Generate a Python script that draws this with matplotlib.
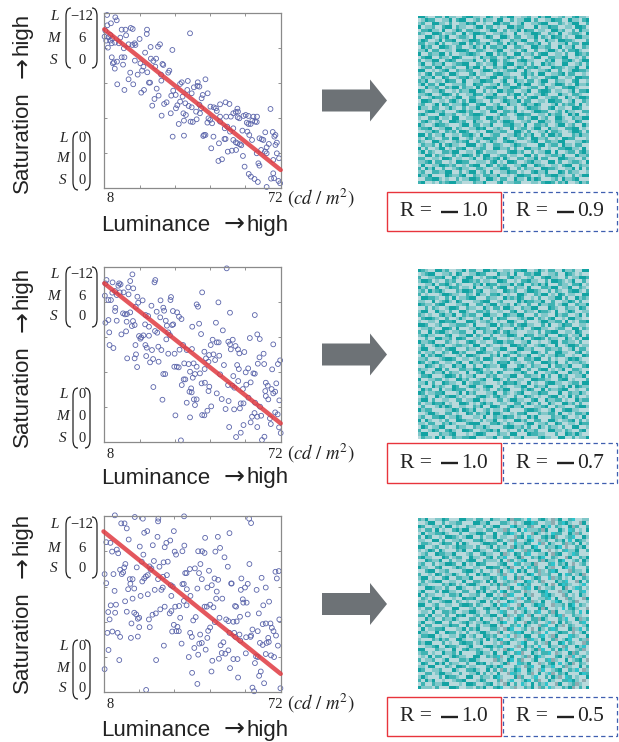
import numpy as np
import matplotlib
matplotlib.use("Agg")
import matplotlib.pyplot as plt
from matplotlib.colors import ListedColormap
from matplotlib.patches import Polygon, Rectangle, PathPatch
from matplotlib.path import Path

# scatter values: (luminance cd/m2, saturation in arbitrary units)
points_09 = [(9.0,520),(12.0,513),(12.5,504),(10.4,495),(9.1,489),(8.4,473),(8.1,455),(9.5,453),(10.2,460),(8.7,443),(10.1,443),(10.8,450),(9.3,422),(10.7,435),(11.9,437),(13.8,452),(14.3,476),(15.7,476),(17.6,481),(18.3,478),(23.5,476),(23.4,463),(15.9,459),(20.8,448),(39.1,465),(19.0,435),(18.2,430),(19.3,430),(16.8,432),(13.3,435),(24.8,424),(28.2,432),(27.5,425),(32.7,415),(22.8,407),(15.1,420),(14.3,393),(15.3,393),(10.7,393),(12.6,380),(11.5,378),(11.1,375),(11.8,359),(14.8,371),(19.1,383),(21.1,375),(24.9,389),(26.8,389),(25.8,382),(29.1,373),(29.4,370),(26.5,365),(22.2,365),(21.7,353),(23.6,348),(17.4,347),(20.1,341),(16.8,327),(18.5,312),(12.7,312),(15.3,295),(31.6,353),(31.2,347),(28.6,341),(44.7,327),(38.3,322),(41.9,318),(36.1,318),(35.5,313),(24.2,317),(24.6,317),(28.7,323),(27.0,299),(22.4,295),(21.4,287),(27.7,278),(26.2,268),(25.4,248),(29.7,253),(30.6,258),(33.0,293),(32.3,278),(33.9,280),(34.5,249),(34.0,240),(28.8,218),(32.1,225),(35.0,193),(36.9,203),(39.3,200),(40.1,199),(41.5,207),(32.8,155),(36.9,158),(44.2,160),(44.7,160),(47.6,155),(46.8,120),(49.4,82),(50.7,87),(52.8,110),(54.3,113),(55.8,115),(49.6,135),(51.6,148),(52.0,148),(54.8,145),(55.7,138),(57.7,129),(58.3,97),(58.9,65),(60.4,43),(61.2,35),(62.5,28),(63.7,19),(66.9,4),(69.3,45),(69.6,30),(68.5,29),(71.2,22),(71.8,15),(71.4,90),(70.6,137),(70.1,130),(67.7,133),(66.9,123),(66.3,110),(63.9,75),(64.3,68),(64.9,115),(65.1,147),(64.3,150),(66.4,168),(69.1,169),(70.1,160),(69.7,155),(68.3,238),(62.1,215),(63.4,215),(60.3,217),(58.5,217),(59.3,220),(56.3,239),(56.5,230),(55.7,229),(54.8,225),(53.9,215),(52.2,215),(53.4,253),(52.0,258),(50.0,252),(48.5,240),(48.8,232),(46.5,245),(47.7,243),(45.5,285),(43.7,280),(43.3,270),(40.5,303),(41.8,307),(42.5,305),(39.7,285),(38.1,295),(36.4,275),(35.5,260),(37.4,255),(38.6,247),(39.7,243),(42.5,251),(43.1,240),(45.8,210),(46.4,205),(45.4,197),(47.1,195),(50.0,200),(51.7,180),(52.6,185),(54.8,180),(57.0,210),(56.4,213),(59.7,197),(61.7,203),(61.1,193),(60.3,193),(62.7,200),(63.3,199),(59.9,170),(58.1,173),(61.6,145),(60.6,160),(42.7,225),(41.3,230),(37.6,220),(36.7,225),(43.9,157),(50.0,215),(57.2,132),(56.3,135),(53.6,170),(65.7,145),(70.6,105),(69.3,85),(63.3,105),(66.9,105)]
points_07 = [(52.4,520),(18.2,502),(8.8,485),(11.0,478),(8.4,475),(13.4,475),(13.9,472),(13.1,468),(17.4,482),(16.7,463),(18.5,460),(15.0,448),(13.6,448),(11.9,452),(10.9,447),(12.5,440),(8.2,438),(9.5,425),(10.4,425),(16.8,442),(20.0,435),(21.9,424),(20.3,417),(19.4,405),(26.5,485),(26.2,478),(43.5,448),(32.2,434),(32.0,425),(28.4,424),(25.1,408),(29.4,402),(29.7,393),(27.0,390),(32.9,392),(34.4,388),(35.1,375),(36.0,368),(41.5,412),(42.0,405),(49.4,418),(53.6,387),(62.6,380),(48.5,357),(42.4,354),(39.9,345),(51.0,334),(43.1,323),(33.0,352),(32.6,350),(31.2,328),(31.8,320),(30.5,307),(28.3,373),(30.3,363),(30.7,348),(23.0,380),(23.9,377),(22.8,352),(24.2,345),(26.4,332),(27.2,327),(24.2,318),(12.0,402),(11.9,392),(14.8,385),(15.5,382),(16.2,383),(17.4,388),(16.1,360),(18.4,362),(19.0,350),(18.0,347),(12.5,363),(9.5,365),(8.4,357),(9.8,328),(14.2,322),(15.9,331),(20.6,317),(21.4,313),(22.2,319),(21.1,309),(19.3,290),(9.9,290),(11.3,281),(22.9,290),(23.4,282),(25.3,275),(28.7,275),(27.6,285),(31.2,264),(33.5,264),(35.3,276),(36.6,290),(37.9,275),(39.8,278),(16.3,250),(19.5,262),(19.0,250),(23.2,257),(25.7,248),(24.6,238),(27.7,240),(19.9,224),(29.4,203),(30.1,203),(33.4,225),(34.3,225),(35.0,223),(37.0,235),(38.6,233),(40.4,235),(41.5,225),(39.1,210),(40.9,203),(42.7,205),(44.4,218),(40.1,192),(36.8,187),(37.4,187),(43.3,175),(44.5,177),(46.1,165),(45.8,152),(39.5,160),(38.9,150),(39.7,148),(36.1,170),(25.8,164),(29.1,126),(37.9,117),(40.5,127),(41.5,127),(40.9,110),(46.8,106),(45.4,93),(43.5,80),(44.3,79),(39.1,73),(33.8,79),(35.8,4),(44.3,270),(46.6,290),(47.3,306),(48.8,298),(49.5,298),(53.0,300),(54.6,306),(53.6,292),(55.6,287),(53.9,277),(56.5,277),(57.0,265),(58.8,269),(60.8,311),(63.5,322),(64.4,308),(69.3,292),(65.8,264),(64.3,253),(63.7,234),(66.0,233),(71.8,244),(71.0,233),(68.9,217),(56.2,230),(56.8,218),(60.2,220),(59.3,208),(62.1,205),(62.6,204),(54.8,197),(56.6,182),(61.1,178),(59.5,171),(52.9,170),(54.5,168),(55.2,162),(58.3,158),(48.8,145),(50.6,128),(53.1,122),(60.3,132),(62.7,117),(64.5,105),(57.5,115),(58.5,115),(57.2,100),(55.1,97),(52.0,98),(62.5,86),(61.6,75),(63.5,75),(64.9,78),(66.6,177),(67.3,168),(70.4,175),(66.4,152),(68.7,158),(70.0,150),(69.3,145),(66.6,137),(67.5,127),(71.5,124),(70.0,88),(70.9,82),(68.1,70),(68.4,53),(71.4,43),(72.0,26),(66.1,15),(65.2,5),(55.8,14),(57.5,27),(53.3,44),(58.5,50),(61.1,58),(63.5,44),(44.9,250),(45.8,240),(47.6,262),(49.7,258),(48.2,245),(51.4,230),(50.0,202),(46.0,260)]
points_05 = [(12.1,527),(19.3,522),(22.2,517),(27.8,517),(37.1,524),(27.7,509),(14.4,503),(15.6,503),(16.4,488),(22.7,475),(23.8,480),(33.4,480),(44.7,460),(49.3,463),(53.5,474),(60.6,517),(61.3,504),(17.1,455),(27.5,463),(32.1,452),(30.7,445),(30.1,432),(25.8,438),(21.1,434),(37.2,437),(36.5,420),(33.7,419),(34.2,410),(9.0,447),(10.5,445),(12.8,425),(11.1,419),(13.3,414),(22.4,410),(42.2,420),(43.6,420),(44.5,415),(50.1,430),(48.4,419),(51.7,402),(15.9,382),(15.5,372),(14.0,365),(15.1,357),(14.6,352),(11.6,352),(8.4,352),(9.0,325),(12.0,302),(20.0,372),(21.8,389),(26.2,391),(24.6,375),(25.3,369),(29.7,387),(31.2,389),(28.2,374),(43.0,382),(52.9,374),(60.7,382),(39.2,367),(41.0,369),(38.0,355),(37.5,355),(42.5,355),(46.1,362),(30.9,349),(23.3,345),(24.0,349),(22.7,339),(22.0,330),(18.5,337),(17.5,337),(17.7,323),(16.9,307),(19.1,309),(25.0,365),(27.7,337),(29.5,344),(26.5,305),(24.0,292),(21.4,287),(18.5,279),(15.8,271),(12.5,261),(10.6,259),(9.7,239),(12.2,237),(16.4,240),(19.1,237),(19.8,232),(20.4,219),(20.9,222),(10.2,217),(18.1,205),(20.9,194),(24.7,194),(24.4,217),(25.7,231),(26.9,235),(28.5,247),(30.1,255),(31.9,235),(32.5,242),(33.9,255),(35.3,257),(37.0,272),(38.0,259),(39.4,287),(37.0,323),(38.1,307),(36.5,322),(32.3,319),(33.0,315),(29.4,312),(28.9,305),(32.5,287),(41.9,309),(43.5,337),(45.5,312),(47.1,319),(48.1,339),(49.4,335),(48.9,300),(50.9,279),(48.7,279),(45.3,255),(46.5,261),(44.5,255),(47.7,253),(54.1,324),(54.3,324),(57.8,339),(60.1,323),(59.1,312),(57.6,305),(58.3,277),(59.7,267),(58.5,267),(55.5,257),(55.9,255),(63.3,305),(65.1,341),(66.6,312),(67.8,270),(65.7,259),(64.1,235),(70.1,359),(71.3,361),(70.6,339),(41.3,224),(40.4,214),(35.7,222),(49.9,222),(52.3,217),(53.1,212),(54.9,210),(56.1,211),(57.3,225),(60.1,232),(46.5,193),(45.8,183),(42.9,172),(48.2,209),(33.4,201),(34.7,195),(34.3,182),(35.2,182),(32.8,181),(39.3,177),(39.9,165),(45.5,162),(36.2,145),(29.8,139),(42.6,145),(43.5,147),(40.8,132),(44.9,127),(51.3,149),(50.3,140),(53.1,125),(52.0,115),(50.7,117),(49.7,100),(47.3,94),(54.9,99),(56.4,99),(42.2,112),(38.8,105),(27.0,96),(13.7,96),(8.4,69),(9.8,126),(9.4,177),(11.2,181),(13.1,177),(14.0,165),(17.9,162),(20.4,166),(40.0,58),(47.0,62),(41.9,25),(23.4,7),(53.7,72),(56.6,44),(64.8,62),(64.2,49),(66.0,27),(61.8,14),(62.4,3),(71.9,12),(71.5,217),(66.6,205),(65.5,203),(68.3,205),(68.8,192),(69.4,182),(61.8,187),(63.7,182),(61.3,169),(59.5,164),(61.1,165),(57.4,154),(67.5,162),(64.5,147),(70.3,169),(71.0,139),(66.9,147),(65.5,141),(67.7,150),(66.6,114),(68.5,110),(69.6,105),(63.1,107),(63.7,105),(62.7,87),(59.4,116),(55.2,177),(57.1,172),(53.5,177),(55.6,165)]

# the fitted R = -1.0 line, ends as (luminance, saturation)
line_lum = [8, 72]
line_sat_09 = [477, 55]
line_sat_07 = [475, 55]
line_sat_05 = [479, 55]

# mosaics, hand typed levels. only the overall texture is estimated by eye, not cell for cell
mosaic_09 = [
"33100220311002331100320021330011200313300120023110",
"01322001130233001202110330020113302001132200311023",
"12003311020011323001003312200130011233000210133002",
"30112002330211001330220100331220003011322001103320",
"02231103001320221100133002011303220110033120020311",
"21003320112003013322001121003001133200210300122103",
"00331021300122103001320033102200113021032201003311",
"13200130223001133200012310021133002003110332210002",
"22011302001133020211300220313001221300200113022033",
"03120033210220013103022113002210033112200301130021",
"11302200110333200221001330011023002001331020223100",
"30021133020011232100330212003301120233001102003212",
"02330021103320001031122001321020013300221133001020",
"20113300232001113002033102100233110002130022310133",
"13002113001223300210113002330112020031210033001202",
"01220330112000313302002113001320223100032210113003",
"33001012300211220013320101223003100112300200133221",
"10230221033100023011002331100023120330011230220010",
"02113003200122310200133002212003011002233001103322",
"21300110322003001133220013003110220133002110023001",
"13022033001112003220011302200313300120013320103112",
"00311200213302110301223001133200122003110022331000",
"32001132001021133002010331220011300233201100130223",
"11230013320200113220113000213302001132000311022100",
"20013220101330022001332112003010233001122003101332",
"03320011023102033110020013211302200110332200130021",
"12001303201113200233001200311023113200013021220301",
"31102200131002011300221331002001322100230110033200",
"00233112000233120011033002213010013322001203110022",
"23100033112001023321000132001332200110312200313001",
"10022301103300112200331201100220133012003310021133",
"02310120033212003110022013320011200331102211003200",
"31001322100013302201130002231103002212001330120031",
"12230011330210011323001210030122013300311002233010",
"00113200212033200100331122003310200113022100133202",
"33020113001102231030012200113202130020331200021311",
"10321002203300120113322003100221033112001033220001",
"21003311001212300200131002331000123002211330001132",
"02112030231100333012002210013211000330122031102200",
"30200133010223001122003311202003311200100223311030",
"13021002213300110320111000233120020113303001220231",
"00330211002013320203300122011003302001122130003112",
"22001103320110013003212303100220113022000332110020",
"11230220010332200111023010332001231100330200122103",
"03001133212001023300320212001133003210011023300211",
"20313002001231100221001133200202110033221001130302",
"12002211330020133012030011322010023113000320211001",
"31130000321123002102211300101332200102233110020133",
"00223310100201133200331022003110313200012031123000",
"23001021233110002113000230112200011023320213001312",
]
mosaic_07 = [
"32100331200113022003312001102233001310220031120033",
"01233001120320011322000311203002213300112003210100",
"20011223003101330010223100231100120023311002011332",
"13320100212003321201100332001022311002033210130020",
"00113022310210002130322011130230021313000211022301",
"31200300132201103001120233002110300022133011300210",
"12031231000213320230011003212001332100202100233102",
"20100013321100210311022310100331002133010320110033",
"03322100203011233000211003121320010200113302003121",
"11003012310320001123300120000313221130020011320200",
"32110233000112300220133011203100200311220133002113",
"00202100133200211003102203310021133000321002110320",
"13300311020033100221200110023002110322103001320011",
"21010023113002122003311003211330002011003122001302",
"02332100200131001130020322000121330210230010331100",
"10011033223000332011210100331002000133112203010223",
"33200120011222103000133021120233110020300132200110",
"01121003320300011322100310003120023311001220033021",
"20030233101122003002113202311000110202233001103200",
"12311000230011330210020011332003220113000322011302",
"00200331120332001103312000101130023320211003102033",
"31123000210100232011002331220011300100133022110200",
"02001323001221103300210010033212001231003001332011",
"13300110233000211023001133000331120002211200130220",
"20112002103312000332110200123100033102003311002301",
"03021331000120332100021303200211300120113220010032",
"11200012332001101203320011023002213300201001323100",
"32013200110230031120010322301100120033213002011210",
"00321021003113002003211033000231021100302211300023",
"21100330200022113320100002113300200233010130022100",
"13002113021100300231120320001132003001123000311203",
"02230001332020113000212001133002211030200312001130",
"30011220100331200123003310200110033221100233010002",
"11302003211003012211000103223100301002331100122033",
"20003121003200133002330021001133002113000120303211",
"03120030113222001101200213300021320030211233001002",
"32011223000130312000113002101230011322000300211310",
"01200310233101000233102311002003210100233010302001",
"13302001100220113301000220133110023003112201003122",
"20113223010033201023120011002201310200310033120200",
"02000131320011002130033200231130001123002110002331",
"31220000113203213001201102300002332100130023311000",
"00133100220100320211303310010223000211220300102213",
"12002233011320001103002113220100313000021132001030",
"30310010200332110020113001003312002200331011230201",
"11022002131000233300022310210001330112003200110322",
"03201133000211002113100002331120200310211020033001",
"20013200231003320011231300100203112000331102100230",
"13300021123000101332000211033000322110002003213100",
"02110303002112233000113002201130000231100330020113",
]
mosaic_05 = [
"21300113200033110220031100342210500231041300250011",
"00133002011220003311300022104013352001140253100430",
"32001120330100211002013300053110240031502100342002",
"10220301002313300110220114200305111243000310520103",
"03011223100020011332003002351020043101052200314200",
"20320010332101330020113011004230510023134001250031",
"11003302001120002231001320142001350412002130503210",
"02210013220303100013322003005113200540310024120301",
"33001200101322110200130211043120035002113504002130",
"10132031000213003311002300250014213300401025113002",
"01200322113000120023110034103202500113042300152000",
"23110003201220031100230215001340021350021004300213",
"00321130020110233002111030420153000243110350012031",
"12002011332003010322000123005201134000250213040120",
"31100230001321001100332201340020512003140035120002",
"00233011200002331020010430150313002410253000421103",
"20010320113100200313200124002001350411200305201340",
"13301002300221130001132015003420013200541201030021",
"02012330011003002210303001214003510240003125004302",
"21100002132010233100021342100531200013040352100150",
"00332110200331001023100200430012503401120034015201",
"13000203311002200313012053012204100235000411300250",
"30211001022130011200330104250003140025310042010310",
"02103320001003223001102132001450300112503004210043",
"11020012330210100133020400351002241030015300124001",
"33001200110023320210013025100430013520041120350210",
"10220311003300012002311300420215000343001050231004",
"01103002212001133100200152004013102500243001120503",
"22030110200323001201133003410250430012013540021100",
"00312002113100022030010240105310022431000215003412",
"13001330020012310113200135002004312001540302100250",
"20220001132200300201133040021503100425003140210013",
"03011223000113021300022104350012040310252000341502",
"31100300322010200133100430012530021405001322040130",
"02233010011023012003212001504103300250143000521003",
"10002131200331001120301350021004251030024013500214",
"21330002010023220130001042300153002014300350210042",
"00112300322100130002331250001403120500311042003150",
"33000211003002311210020104350022013450020315001240",
"12201003112030000231103003102540031022504100342001",
"01030220013211003300212540130012403510002301450120",
"20112001300022133100004210350240013002541003012304",
"03200313021100200323010013400521300410230501340210",
"11033000210332011000231350002104250031150024100302",
"32001120003100223100302042013500310450012300215041",
"00220133110020011302010300452100240301540213000352",
"13100020322100330021103510003420015002031405201003",
"20313001001223000132000240150013502400310022531040",
"02002113300010332001230104302051030215004300124100",
"31110200033200110213002350014002130420510021340203",
]

lum_ticks = [8, 20.8, 33.6, 46.4, 59.2, 72]
sat_ticks = [105, 210, 315, 420]
mosaic_levels = ["#b8d9dc", "#80c7c9", "#40b3b3", "#13a3a3", "#8fabb0", "#2ec4cc"]

FIG_W, FIG_H = 619, 742
SANS = ["Liberation Sans", "DejaVu Sans"]
SERIF = ["Liberation Serif", "DejaVu Serif"]


def add_px_axes(fig, x0, y0, x1, y1):
    '''axes from picture pixels, y going down'''
    return fig.add_axes([x0 / FIG_W, 1 - y1 / FIG_H, (x1 - x0) / FIG_W, (y1 - y0) / FIG_H])


def plot_scatter(fig, box, points, line_sat):
    ax = add_px_axes(fig, *box)
    lum = [p[0] for p in points]
    sat = [p[1] for p in points]
    ax.scatter(lum, sat, s=12, facecolors="none", edgecolors="#5a64aa", linewidths=0.6, clip_on=False, zorder=2)
    ax.plot(line_lum, line_sat, color="#e03a40", lw=3.2, alpha=0.85, solid_capstyle="round", clip_on=False, zorder=3)
    ax.set_xlim(8, 72)
    ax.set_ylim(0, 525)
    ax.set_xticks(lum_ticks)
    ax.set_yticks(sat_ticks)
    ax.set_xticklabels([])
    ax.set_yticklabels([])
    ax.tick_params(direction="in", length=2, width=0.6, color="#808080", top=True, right=True)
    for spine in ax.spines.values():
        spine.set_color("#8a8a8a")
        spine.set_linewidth(0.9)


def plot_mosaic(fig, box, rows):
    ax = add_px_axes(fig, *box)
    grid = np.array([[int(c) for c in row.ljust(50, "1")[:50]] for row in rows])
    ax.imshow(grid, cmap=ListedColormap(mosaic_levels), vmin=-0.5, vmax=5.5, aspect="auto", interpolation="nearest")
    ax.axis("off")


def draw_paren(ov, x_edge, x_tip, top, bottom):
    r = 8
    verts = [(x_tip, top), (x_edge, top), (x_edge, top + r), (x_edge, bottom - r), (x_edge, bottom), (x_tip, bottom)]
    codes = [Path.MOVETO, Path.CURVE3, Path.CURVE3, Path.LINETO, Path.CURVE3, Path.CURVE3]
    ov.add_patch(PathPatch(Path(verts, codes), fill=False, ec="#222222", lw=0.9))


def draw_matrix(ov, x_label, x_left, x_value, x_right, ys, values, top, bottom):
    for name, y, value in zip("LMS", ys, values):
        ov.text(x_label, y, name, family=SERIF, style="italic", fontsize=11, color="#222222", ha="center", va="center")
        ov.text(x_value, y, value, family=SERIF, fontsize=10.5, color="#222222", ha="center", va="center")
    draw_paren(ov, x_left, x_left + 5, top, bottom)
    draw_paren(ov, x_right, x_right - 5, top, bottom)


def draw_labels(ov, sat_bottom, lum_base, tick_y, top_ys, top_span, low_ys, low_span):
    # words and arrows apart, the arrow in the picture is longer than the Liberation one
    ink = "#222222"
    ov.text(22, sat_bottom, "Saturation", family=SANS, fontsize=16, rotation=90, color=ink, ha="center", va="bottom")
    ov.text(22, sat_bottom - 126, "\u2192", family="DejaVu Sans", fontsize=18, rotation=90, color=ink, ha="center", va="center")
    ov.text(22, sat_bottom - 138, "high", family=SANS, fontsize=16, rotation=90, color=ink, ha="center", va="bottom")
    ov.text(101, lum_base, "Luminance", family=SANS, fontsize=16, color=ink, ha="left", va="baseline")
    ov.text(234.5, lum_base, "\u2192", family="DejaVu Sans", fontsize=18, color=ink, ha="center", va="baseline")
    ov.text(246, lum_base, "high", family=SANS, fontsize=16, color=ink, ha="left", va="baseline")
    ov.text(110, tick_y, "8", family=SERIF, fontsize=10.5, color=ink, ha="center", va="center")
    ov.text(275, tick_y, "72", family=SERIF, fontsize=10.5, color=ink, ha="center", va="center")
    ov.text(320.5, tick_y - 1, r"$(cd\ /\ m^2)$", math_fontfamily="stix", fontsize=13.5, color=ink, ha="center", va="center")
    draw_matrix(ov, 54, 66, 82, 97, top_ys, ["\u221212", "6", "0"], *top_span)
    draw_matrix(ov, 63, 73, 82, 90, low_ys, ["0", "0", "0"], *low_span)


def draw_arrow(ov, y_mid):
    shape = [(322, y_mid - 11), (370, y_mid - 11), (370, y_mid - 21), (387, y_mid),
             (370, y_mid + 21), (370, y_mid + 11), (322, y_mid + 11)]
    ov.add_patch(Polygon(shape, closed=True, fc="#6d7276", ec="none"))


def draw_r_label(ov, x, mid, label):
    # the minus in the picture is a heavy short bar, so it gets its own line
    ov.text(x, mid, "R =", family=SERIF, fontsize=15.5, color="#222222", ha="left", va="center")
    ov.plot([x + 41, x + 58], [mid, mid], color="#222222", lw=1.7, solid_capstyle="butt")
    ov.text(x + 61.5, mid, label, family=SERIF, fontsize=15.5, color="#222222", ha="left", va="center")


def draw_boxes(ov, top, bottom, label):
    ov.add_patch(Rectangle((387, top), 114, bottom - top, fill=False, ec="#e8343c", lw=1.0))
    ov.add_patch(Rectangle((503, top), 114, bottom - top, fill=False, ec="#3f5fb0", lw=0.9, ls=(0, (3.5, 2.5))))
    mid = (top + bottom) / 2
    draw_r_label(ov, 400, mid, "1.0")
    draw_r_label(ov, 515.5, mid, label)


def main():
    fig = plt.figure(figsize=(6.19, 7.42), dpi=100)

    plot_scatter(fig, (104.3, 13.3, 280.7, 188.3), points_09, line_sat_09)
    plot_scatter(fig, (104.3, 266.7, 280.7, 441.7), points_07, line_sat_07)
    plot_scatter(fig, (103.5, 516, 280.7, 692.3), points_05, line_sat_05)

    plot_mosaic(fig, (418, 15.7, 588.5, 184.3), mosaic_09)
    plot_mosaic(fig, (418, 269, 589, 439), mosaic_07)
    plot_mosaic(fig, (418, 518.3, 589, 689), mosaic_05)

    # annotation layer in picture pixels
    ov = fig.add_axes([0, 0, 1, 1], zorder=5)
    ov.set_xlim(0, FIG_W)
    ov.set_ylim(FIG_H, 0)
    ov.axis("off")
    ov.patch.set_alpha(0)

    draw_labels(ov, 193, 231, 199, (17, 38, 60), (8, 68), (138, 159, 180), (132, 190))
    draw_labels(ov, 447, 483.5, 454, (275, 296, 317), (267, 327), (395, 417, 438), (388, 448))
    draw_labels(ov, 693, 736, 704, (525, 548, 569), (517, 578), (647, 668, 689), (640, 699))

    draw_arrow(ov, 100.5)
    draw_arrow(ov, 354.5)
    draw_arrow(ov, 604)

    draw_boxes(ov, 191.7, 231.3, "0.9")
    draw_boxes(ov, 443.3, 483.3, "0.7")
    draw_boxes(ov, 696.7, 736.3, "0.5")

    fig.savefig("out.png", dpi=100)


if __name__ == "__main__":
    main()
